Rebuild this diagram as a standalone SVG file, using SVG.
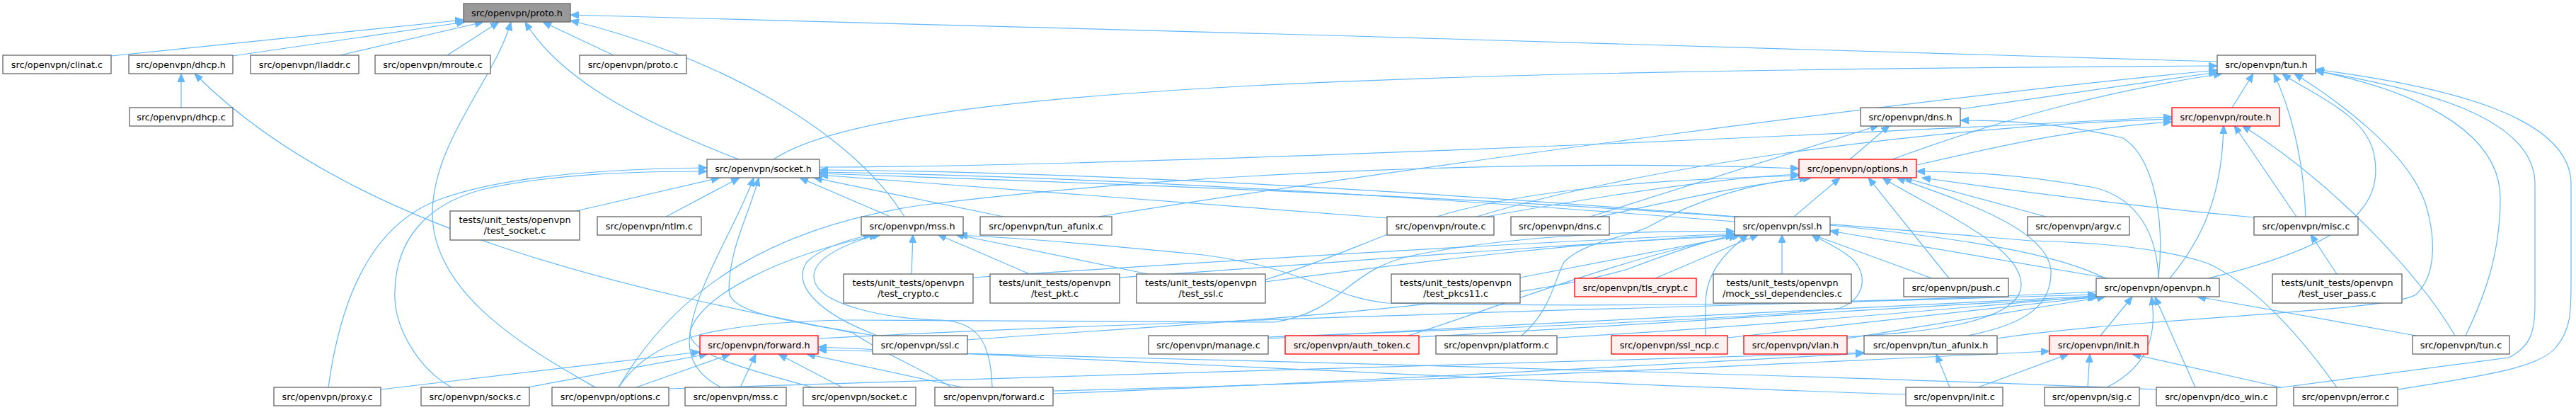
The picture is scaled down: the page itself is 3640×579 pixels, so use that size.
<svg xmlns="http://www.w3.org/2000/svg" width="3640" height="579" viewBox="0 0 3640 579">
<style>
.n rect{fill:#ffffff;stroke:#666666;stroke-width:1.3}
.r rect{fill:#fff0f0;stroke:#ff0000;stroke-width:1.3}
.root rect{fill:#999999;stroke:#666666;stroke-width:1.3}
text{font-family:"DejaVu Sans","Liberation Sans",sans-serif;font-size:12.8px;text-anchor:middle;fill:#000000}
#edges path{fill:none;stroke:#63b8ff;stroke-width:1.2;marker-end:url(#ah)}
</style>
<defs>
<marker id="ah" markerUnits="userSpaceOnUse" markerWidth="12" markerHeight="10" refX="12" refY="5" orient="auto">
<path d="M0,0 L12,5 L0,10 Z" fill="#63b8ff" stroke="#63b8ff" stroke-width="1"/>
</marker>
</defs>
<rect x="0" y="0" width="3640" height="579" fill="#ffffff"/>
<g id="edges">
<path d="M157,79 L655,28"/>
<path d="M329,79 L657,31"/>
<path d="M480,78 L683,31"/>
<path d="M632,78 L705,31"/>
<path d="M867,78 L767,31"/>
<path d="M3133,87 C2500,68 1500,38 806,21"/>
<path d="M1044,225 C900,170 790,110 742,31"/>
<path d="M1278,306 C1200,180 1000,75 806,29"/>
<path d="M841,547 C760,500 610,420 611,300 C612,200 700,110 722,31"/>
<path d="M256,152 L256,104"/>
<path d="M1345,547 C1290,515 1235,492 1205,470 C900,410 500,330 275,104"/>
<path d="M1093,225 C1250,120 2000,100 3133,93"/>
<path d="M1552,306 C2000,235 2700,140 3133,99"/>
<path d="M2770,154 L3133,102"/>
<path d="M2674,225 C2850,160 3000,125 3140,104"/>
<path d="M3154,152 L3184,104"/>
<path d="M3258,306 C3255,220 3235,150 3213,104"/>
<path d="M3120,393 C3300,350 3370,300 3355,220 C3345,160 3260,130 3225,104"/>
<path d="M2822,478 C3000,450 3390,440 3415,415 C3445,385 3440,330 3428,290 C3405,215 3300,140 3242,104"/>
<path d="M3484,474 C3510,420 3533,360 3533,280 C3533,180 3400,125 3272,100"/>
<path d="M3217,548 L3545,505 C3575,490 3582,470 3582,430 L3582,260 C3582,165 3420,125 3272,100"/>
<path d="M3388,550 C3500,532 3590,520 3612,490 C3633,465 3633,440 3633,400 L3633,260 C3633,160 3440,120 3272,98"/>
<path d="M3066,393 C3110,340 3140,280 3142,177"/>
<path d="M3245,306 L3157,177"/>
<path d="M3469,474 C3420,390 3300,260 3168,177"/>
<path d="M2709,233 C2850,200 2950,180 3069,172"/>
<path d="M2087,306 C2300,240 2700,180 3069,168"/>
<path d="M1158,236 C1600,235 2500,195 3069,165"/>
<path d="M464,547 C480,430 520,320 620,282 C720,245 880,238 999,237"/>
<path d="M638,547 C590,520 555,460 558,410 C560,340 600,290 680,268 C780,245 900,242 999,242"/>
<path d="M814,298 L1017,251"/>
<path d="M941,306 L1045,251"/>
<path d="M1148,547 C1050,520 975,500 975,470 C985,400 1040,320 1065,251"/>
<path d="M1236,474 C1100,452 1030,440 1030,410 C1030,350 1060,300 1072,251"/>
<path d="M1258,306 L1130,251"/>
<path d="M1418,306 L1150,251"/>
<path d="M1962,308 L1158,247"/>
<path d="M2451,313 C2100,285 1600,250 1158,243"/>
<path d="M3302,547 C3240,460 3180,400 3120,372 C3050,348 2950,342 2870,340 C2500,310 1800,245 1158,240"/>
<path d="M2975,393 C2850,330 2500,290 1158,245"/>
<path d="M874,547 C960,400 1100,320 1300,290 C1700,240 2200,225 2542,238"/>
<path d="M874,547 C920,480 1000,455 1200,452 L1800,455 C1900,440 1900,380 2000,360 C2150,330 2350,325 2451,327"/>
<path d="M899,547 L1032,500"/>
<path d="M945,549 C1500,530 2300,510 2634,498"/>
<path d="M2100,306 C2300,270 2450,250 2542,246"/>
<path d="M2260,306 C2380,280 2470,260 2560,251"/>
<path d="M2535,306 L2600,251"/>
<path d="M2891,306 L2690,251"/>
<path d="M3185,307 C3000,290 2850,270 2716,251"/>
<path d="M2754,393 L2640,251"/>
<path d="M3050,393 C3048,330 3020,280 2960,265 C2850,245 2760,242 2708,242"/>
<path d="M1375,392 C1700,370 2100,345 2451,330"/>
<path d="M1582,392 C1900,370 2200,345 2451,333"/>
<path d="M1788,395 C1900,360 1950,330 2050,300 C2200,260 2400,252 2542,248"/>
<path d="M1788,398 C2000,370 2250,340 2451,332"/>
<path d="M2148,392 L2455,333"/>
<path d="M1288,387 L1290,331"/>
<path d="M1455,387 L1325,331"/>
<path d="M1622,387 L1350,331"/>
<path d="M1240,474 C1150,440 1120,400 1140,370 C1160,350 1200,338 1232,331"/>
<path d="M1402,547 C1400,480 1380,455 1330,452 C1250,450 1150,430 1150,390 C1150,360 1210,340 1240,331"/>
<path d="M1019,547 C985,530 970,505 975,470 C985,420 1100,360 1245,331"/>
<path d="M2962,412 C2500,435 2150,432 1960,428 C1880,420 1850,380 1700,360 C1550,345 1420,335 1355,332"/>
<path d="M2339,393 L2485,331"/>
<path d="M2518,387 L2518,331"/>
<path d="M2730,393 L2560,331"/>
<path d="M2980,393 L2586,326"/>
<path d="M1367,480 C1600,462 2100,440 2300,380 C2380,350 2420,338 2455,331"/>
<path d="M1990,474 C2100,440 2300,360 2460,332"/>
<path d="M1792,476 C2000,468 2500,450 2600,435 C2640,420 2640,380 2610,360 C2590,345 2570,338 2560,331"/>
<path d="M2410,474 L2410,430 C2410,400 2420,370 2470,331"/>
<path d="M1156,478 C1700,450 2500,430 2962,416"/>
<path d="M2968,474 L3013,419"/>
<path d="M2977,547 C3030,520 3050,480 3040,419"/>
<path d="M3102,547 L3045,419"/>
<path d="M3414,474 L3105,419"/>
<path d="M1792,478 C2200,455 2700,430 2962,418"/>
<path d="M2005,476 C2300,460 2700,432 2962,420"/>
<path d="M2200,477 C2500,460 2800,432 2962,418"/>
<path d="M2441,477 C2650,455 2850,432 2965,419"/>
<path d="M2610,478 C2750,455 2900,432 2975,419"/>
<path d="M538,550 L989,497"/>
<path d="M740,548 L1000,500"/>
<path d="M1046,547 L1068,500"/>
<path d="M1190,547 L1100,500"/>
<path d="M1360,547 L1140,500"/>
<path d="M2693,557 C2300,545 1600,510 1156,490"/>
<path d="M3047,550 C2600,530 1600,505 1156,494"/>
<path d="M2950,547 L2953,500"/>
<path d="M2795,547 L2923,500"/>
<path d="M3223,547 L3013,500"/>
<path d="M1488,552 C2000,540 2600,510 2896,496"/>
<path d="M2755,547 L2736,500"/>
<path d="M1488,556 C1900,540 2400,512 2634,499"/>
<path d="M3302,387 L3265,331"/>
<path d="M2150,474 C2190,440 2195,400 2210,370 C2240,340 2300,335 2330,320 C2400,280 2480,258 2555,251"/>
<path d="M2610,476 C2700,470 2840,460 2855,410 C2870,350 2720,290 2660,251"/>
<path d="M2780,474 C2880,455 2900,420 2898,380 C2890,320 2760,280 2680,251"/>
<path d="M2247,306 L2655,177"/>
<path d="M2614,225 L2670,177"/>
<path d="M3050,393 C3060,300 3040,220 3000,195 C2920,175 2840,170 2770,170"/>
</g>
<g id="n_proto_h" class="root"><rect x="655" y="5" width="151" height="26"/><text x="730.5" y="22.5">src/openvpn/proto.h</text></g>
<g id="n_clinat_c" class="n"><rect x="4" y="78" width="153" height="26"/><text x="80.5" y="95.5">src/openvpn/clinat.c</text></g>
<g id="n_dhcp_h" class="n"><rect x="182" y="78" width="147" height="26"/><text x="255.5" y="95.5">src/openvpn/dhcp.h</text></g>
<g id="n_lladdr_c" class="n"><rect x="354" y="78" width="153" height="26"/><text x="430.5" y="95.5">src/openvpn/lladdr.c</text></g>
<g id="n_mroute_c" class="n"><rect x="530" y="78" width="163" height="26"/><text x="611.5" y="95.5">src/openvpn/mroute.c</text></g>
<g id="n_proto_c" class="n"><rect x="819" y="78" width="151" height="26"/><text x="894.5" y="95.5">src/openvpn/proto.c</text></g>
<g id="n_tun_h" class="n"><rect x="3133" y="78" width="139" height="26"/><text x="3202.5" y="95.5">src/openvpn/tun.h</text></g>
<g id="n_dhcp_c" class="n"><rect x="183" y="152" width="146" height="26"/><text x="256" y="169.5">src/openvpn/dhcp.c</text></g>
<g id="n_dns_h" class="n"><rect x="2629" y="152" width="141" height="26"/><text x="2699.5" y="169.5">src/openvpn/dns.h</text></g>
<g id="n_route_h" class="r"><rect x="3069" y="152" width="152" height="26"/><text x="3145" y="169.5">src/openvpn/route.h</text></g>
<g id="n_socket_h" class="n"><rect x="999" y="225" width="159" height="26"/><text x="1078.5" y="242.5">src/openvpn/socket.h</text></g>
<g id="n_options_h" class="r"><rect x="2542" y="225" width="166" height="26"/><text x="2625" y="242.5">src/openvpn/options.h</text></g>
<g id="n_test_socket_c" class="n"><rect x="636" y="298" width="183" height="41"/><text x="727.5" y="314.5">tests/unit_tests/openvpn</text><text x="727.5" y="329.5">/test_socket.c</text></g>
<g id="n_ntlm_c" class="n"><rect x="844" y="306" width="147" height="26"/><text x="917.5" y="323.5">src/openvpn/ntlm.c</text></g>
<g id="n_mss_h" class="n"><rect x="1217" y="306" width="144" height="26"/><text x="1289" y="323.5">src/openvpn/mss.h</text></g>
<g id="n_tun_afunix_c" class="n"><rect x="1385" y="306" width="186" height="26"/><text x="1478" y="323.5">src/openvpn/tun_afunix.c</text></g>
<g id="n_route_c" class="n"><rect x="1960" y="306" width="151" height="26"/><text x="2035.5" y="323.5">src/openvpn/route.c</text></g>
<g id="n_dns_c" class="n"><rect x="2135" y="306" width="139" height="26"/><text x="2204.5" y="323.5">src/openvpn/dns.c</text></g>
<g id="n_ssl_h" class="n"><rect x="2451" y="306" width="135" height="26"/><text x="2518.5" y="323.5">src/openvpn/ssl.h</text></g>
<g id="n_argv_c" class="n"><rect x="2865" y="306" width="144" height="26"/><text x="2937" y="323.5">src/openvpn/argv.c</text></g>
<g id="n_misc_c" class="n"><rect x="3185" y="306" width="147" height="26"/><text x="3258.5" y="323.5">src/openvpn/misc.c</text></g>
<g id="n_test_crypto_c" class="n"><rect x="1192" y="387" width="183" height="41"/><text x="1283.5" y="403.5">tests/unit_tests/openvpn</text><text x="1283.5" y="418.5">/test_crypto.c</text></g>
<g id="n_test_pkt_c" class="n"><rect x="1399" y="387" width="183" height="41"/><text x="1490.5" y="403.5">tests/unit_tests/openvpn</text><text x="1490.5" y="418.5">/test_pkt.c</text></g>
<g id="n_test_ssl_c" class="n"><rect x="1606" y="387" width="182" height="41"/><text x="1697" y="403.5">tests/unit_tests/openvpn</text><text x="1697" y="418.5">/test_ssl.c</text></g>
<g id="n_test_pkcs11_c" class="n"><rect x="1966" y="387" width="182" height="41"/><text x="2057" y="403.5">tests/unit_tests/openvpn</text><text x="2057" y="418.5">/test_pkcs11.c</text></g>
<g id="n_tls_crypt_c" class="r"><rect x="2225" y="393" width="172" height="26"/><text x="2311" y="410.5">src/openvpn/tls_crypt.c</text></g>
<g id="n_mock_ssl_dependencies_c" class="n"><rect x="2421" y="387" width="195" height="41"/><text x="2518.5" y="403.5">tests/unit_tests/openvpn</text><text x="2518.5" y="418.5">/mock_ssl_dependencies.c</text></g>
<g id="n_push_c" class="n"><rect x="2690" y="393" width="148" height="26"/><text x="2764" y="410.5">src/openvpn/push.c</text></g>
<g id="n_openvpn_h" class="n"><rect x="2962" y="393" width="174" height="26"/><text x="3049" y="410.5">src/openvpn/openvpn.h</text></g>
<g id="n_test_user_pass_c" class="n"><rect x="3211" y="387" width="183" height="41"/><text x="3302.5" y="403.5">tests/unit_tests/openvpn</text><text x="3302.5" y="418.5">/test_user_pass.c</text></g>
<g id="n_forward_h" class="r"><rect x="989" y="474" width="167" height="26"/><text x="1072.5" y="491.5">src/openvpn/forward.h</text></g>
<g id="n_ssl_c" class="n"><rect x="1233" y="474" width="134" height="26"/><text x="1300" y="491.5">src/openvpn/ssl.c</text></g>
<g id="n_manage_c" class="n"><rect x="1623" y="474" width="169" height="26"/><text x="1707.5" y="491.5">src/openvpn/manage.c</text></g>
<g id="n_auth_token_c" class="r"><rect x="1816" y="474" width="189" height="26"/><text x="1910.5" y="491.5">src/openvpn/auth_token.c</text></g>
<g id="n_platform_c" class="n"><rect x="2029" y="474" width="171" height="26"/><text x="2114.5" y="491.5">src/openvpn/platform.c</text></g>
<g id="n_ssl_ncp_c" class="r"><rect x="2277" y="474" width="164" height="26"/><text x="2359" y="491.5">src/openvpn/ssl_ncp.c</text></g>
<g id="n_vlan_h" class="r"><rect x="2464" y="474" width="146" height="26"/><text x="2537" y="491.5">src/openvpn/vlan.h</text></g>
<g id="n_tun_afunix_h" class="n"><rect x="2634" y="474" width="188" height="26"/><text x="2728" y="491.5">src/openvpn/tun_afunix.h</text></g>
<g id="n_init_h" class="r"><rect x="2896" y="474" width="139" height="26"/><text x="2965.5" y="491.5">src/openvpn/init.h</text></g>
<g id="n_tun_c" class="n"><rect x="3409" y="474" width="137" height="26"/><text x="3477.5" y="491.5">src/openvpn/tun.c</text></g>
<g id="n_proxy_c" class="n"><rect x="387" y="547" width="151" height="26"/><text x="462.5" y="564.5">src/openvpn/proxy.c</text></g>
<g id="n_socks_c" class="n"><rect x="595" y="547" width="153" height="26"/><text x="671.5" y="564.5">src/openvpn/socks.c</text></g>
<g id="n_options_c" class="n"><rect x="780" y="547" width="165" height="26"/><text x="862.5" y="564.5">src/openvpn/options.c</text></g>
<g id="n_mss_c" class="n"><rect x="968" y="547" width="143" height="26"/><text x="1039.5" y="564.5">src/openvpn/mss.c</text></g>
<g id="n_socket_c" class="n"><rect x="1135" y="547" width="159" height="26"/><text x="1214.5" y="564.5">src/openvpn/socket.c</text></g>
<g id="n_forward_c" class="n"><rect x="1321" y="547" width="167" height="26"/><text x="1404.5" y="564.5">src/openvpn/forward.c</text></g>
<g id="n_init_c" class="n"><rect x="2693" y="547" width="137" height="26"/><text x="2761.5" y="564.5">src/openvpn/init.c</text></g>
<g id="n_sig_c" class="n"><rect x="2889" y="547" width="134" height="26"/><text x="2956" y="564.5">src/openvpn/sig.c</text></g>
<g id="n_dco_win_c" class="n"><rect x="3047" y="547" width="170" height="26"/><text x="3132" y="564.5">src/openvpn/dco_win.c</text></g>
<g id="n_error_c" class="n"><rect x="3241" y="547" width="147" height="26"/><text x="3314.5" y="564.5">src/openvpn/error.c</text></g>
</svg>
